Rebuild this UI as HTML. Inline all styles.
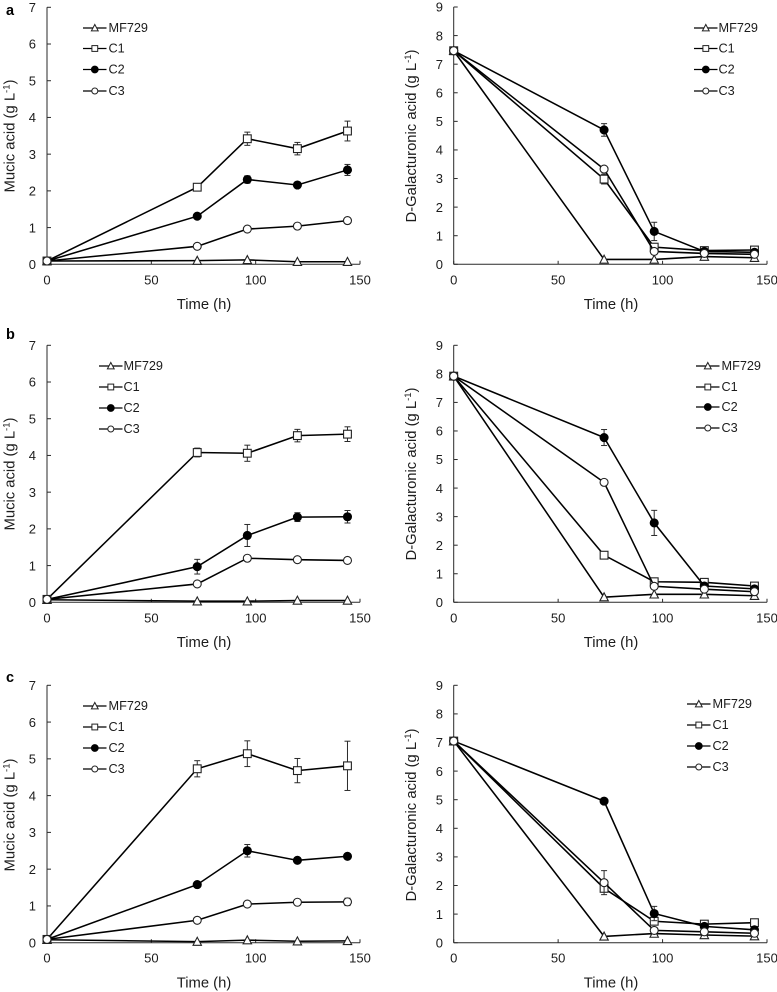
<!DOCTYPE html>
<html lang="en">
<head>
<meta charset="utf-8">
<title>Mucic acid and D-Galacturonic acid over time</title>
<style>
  html, body { margin: 0; padding: 0; background: #fff; }
  #figure { display: block; width: 777px; height: 992px; font-family: "Liberation Sans", Arial, sans-serif; filter: blur(0.3px); }
  text { fill: #1c1c1c; }
  .tick-label { font-size: 13px; }
  .legend-label { font-size: 12.7px; dominant-baseline: central; }
  .axis-title { font-size: 14.8px; text-anchor: middle; }
  .panel-letter { font-size: 14.5px; font-weight: bold; fill: #000; }
  .sup { font-size: 9.5px; }
</style>
</head>
<body>
<svg id="figure" xmlns="http://www.w3.org/2000/svg" width="777" height="992" viewBox="0 0 777 992">
  <rect x="0" y="0" width="777" height="992" fill="#ffffff"/>

  <text class="panel-letter" x="6" y="15">a</text>
  <text class="panel-letter" x="6" y="339">b</text>
  <text class="panel-letter" x="6" y="682">c</text>

  <g id="panel-a-mucic">
    <text class="axis-title" x="204" y="309">Time (h)</text>
    <text class="axis-title" transform="translate(14.5,136) rotate(-90)">Mucic acid (g L<tspan class="sup" dy="-5">-1</tspan><tspan dy="5">)</tspan></text>
    <text class="legend-label" x="108.5" y="28">MF729</text>
    <text class="legend-label" x="108.5" y="48.5">C1</text>
    <text class="legend-label" x="108.5" y="69.5">C2</text>
    <text class="legend-label" x="108.5" y="91">C3</text>
  </g>
  <g id="panel-a-galacturonic">
    <text class="axis-title" x="611" y="309">Time (h)</text>
    <text class="axis-title" transform="translate(416,136) rotate(-90)">D-Galacturonic acid (g L<tspan class="sup" dy="-5">-1</tspan><tspan dy="5">)</tspan></text>
    <text class="legend-label" x="718.5" y="28">MF729</text>
    <text class="legend-label" x="718.5" y="48.5">C1</text>
    <text class="legend-label" x="718.5" y="69.5">C2</text>
    <text class="legend-label" x="718.5" y="91">C3</text>
  </g>
  <g id="panel-b-mucic">
    <text class="axis-title" x="204" y="647">Time (h)</text>
    <text class="axis-title" transform="translate(14.5,474) rotate(-90)">Mucic acid (g L<tspan class="sup" dy="-5">-1</tspan><tspan dy="5">)</tspan></text>
    <text class="legend-label" x="123.5" y="366">MF729</text>
    <text class="legend-label" x="123.5" y="387">C1</text>
    <text class="legend-label" x="123.5" y="408">C2</text>
    <text class="legend-label" x="123.5" y="429">C3</text>
  </g>
  <g id="panel-b-galacturonic">
    <text class="axis-title" x="611" y="647">Time (h)</text>
    <text class="axis-title" transform="translate(416,474) rotate(-90)">D-Galacturonic acid (g L<tspan class="sup" dy="-5">-1</tspan><tspan dy="5">)</tspan></text>
    <text class="legend-label" x="721.5" y="366">MF729</text>
    <text class="legend-label" x="721.5" y="387">C1</text>
    <text class="legend-label" x="721.5" y="407">C2</text>
    <text class="legend-label" x="721.5" y="428">C3</text>
  </g>
  <g id="panel-c-mucic">
    <text class="axis-title" x="204" y="987.5">Time (h)</text>
    <text class="axis-title" transform="translate(14.5,815) rotate(-90)">Mucic acid (g L<tspan class="sup" dy="-5">-1</tspan><tspan dy="5">)</tspan></text>
    <text class="legend-label" x="108.5" y="706">MF729</text>
    <text class="legend-label" x="108.5" y="727">C1</text>
    <text class="legend-label" x="108.5" y="748">C2</text>
    <text class="legend-label" x="108.5" y="769">C3</text>
  </g>
  <g id="panel-c-galacturonic">
    <text class="axis-title" x="611" y="987.5">Time (h)</text>
    <text class="axis-title" transform="translate(416,815) rotate(-90)">D-Galacturonic acid (g L<tspan class="sup" dy="-5">-1</tspan><tspan dy="5">)</tspan></text>
    <text class="legend-label" x="712.5" y="704">MF729</text>
    <text class="legend-label" x="712.5" y="725">C1</text>
    <text class="legend-label" x="712.5" y="746">C2</text>
    <text class="legend-label" x="712.5" y="767">C3</text>
  </g>
</svg>

<script>
// ---- shared categories and tick labels ----
const times = [0, 72, 96, 120, 144];
const timeTicks = [0, 50, 100, 150];
const mucicTicks = [0, 1, 2, 3, 4, 5, 6, 7];
const galacturonicTicks = [0, 1, 2, 3, 4, 5, 6, 7, 8, 9];
const seriesKeys = ['mf729', 'c1', 'c2', 'c3'];

// ---- panel a, mucic acid ----
const aMucicMF729 = [0.09, 0.10, 0.12, 0.07, 0.07];
const aMucicC1 = [0.09, 2.10, 3.42, 3.15, 3.63];
const aMucicC2 = [0.09, 1.31, 2.31, 2.16, 2.57];
const aMucicC3 = [0.09, 0.49, 0.96, 1.04, 1.19];
const aMucicMF729Err = [0, 0, 0, 0, 0];
const aMucicC1Err = [0, 0, 0.18, 0.17, 0.27];
const aMucicC2Err = [0, 0.04, 0.10, 0.05, 0.15];
const aMucicC3Err = [0, 0, 0, 0.05, 0];

// ---- panel a, D-galacturonic acid ----
const aGalMF729 = [7.47, 0.17, 0.17, 0.27, 0.23];
const aGalC1 = [7.47, 2.98, 0.60, 0.48, 0.50];
const aGalC2 = [7.47, 4.70, 1.15, 0.45, 0.42];
const aGalC3 = [7.47, 3.33, 0.45, 0.38, 0.35];
const aGalMF729Err = [0, 0, 0, 0, 0];
const aGalC1Err = [0, 0.17, 0.10, 0, 0];
const aGalC2Err = [0, 0.22, 0.32, 0.05, 0.05];
const aGalC3Err = [0, 0, 0, 0, 0];

// ---- panel b, mucic acid ----
const bMucicMF729 = [0.07, 0.03, 0.03, 0.05, 0.05];
const bMucicC1 = [0.08, 4.08, 4.06, 4.54, 4.58];
const bMucicC2 = [0.08, 0.97, 1.82, 2.32, 2.33];
const bMucicC3 = [0.08, 0.50, 1.20, 1.16, 1.14];
const bMucicMF729Err = [0, 0, 0, 0, 0];
const bMucicC1Err = [0, 0.12, 0.22, 0.17, 0.20];
const bMucicC2Err = [0, 0.20, 0.30, 0.12, 0.17];
const bMucicC3Err = [0, 0, 0, 0, 0];

// ---- panel b, D-galacturonic acid ----
const bGalMF729 = [7.92, 0.18, 0.28, 0.28, 0.23];
const bGalC1 = [7.92, 1.65, 0.72, 0.70, 0.57];
const bGalC2 = [7.92, 5.77, 2.78, 0.57, 0.47];
const bGalC3 = [7.92, 4.20, 0.56, 0.46, 0.37];
const bGalMF729Err = [0, 0, 0, 0, 0];
const bGalC1Err = [0, 0, 0, 0, 0];
const bGalC2Err = [0, 0.28, 0.44, 0.10, 0.05];
const bGalC3Err = [0, 0, 0, 0, 0];

// ---- panel c, mucic acid ----
const cMucicMF729 = [0.08, 0.03, 0.07, 0.04, 0.05];
const cMucicC1 = [0.09, 4.73, 5.14, 4.68, 4.81];
const cMucicC2 = [0.09, 1.58, 2.50, 2.24, 2.35];
const cMucicC3 = [0.09, 0.61, 1.05, 1.10, 1.11];
const cMucicMF729Err = [0, 0, 0, 0, 0];
const cMucicC1Err = [0, 0.22, 0.35, 0.33, 0.67];
const cMucicC2Err = [0, 0.05, 0.17, 0.05, 0.05];
const cMucicC3Err = [0, 0, 0, 0.07, 0.10];

// ---- panel c, D-galacturonic acid ----
const cGalMF729 = [7.05, 0.22, 0.32, 0.27, 0.23];
const cGalC1 = [7.05, 1.90, 0.75, 0.65, 0.70];
const cGalC2 = [7.05, 4.95, 1.02, 0.57, 0.45];
const cGalC3 = [7.05, 2.10, 0.43, 0.38, 0.33];
const cGalMF729Err = [0, 0, 0, 0, 0];
const cGalC1Err = [0, 0.12, 0, 0, 0];
const cGalC2Err = [0, 0, 0.25, 0.05, 0.05];
const cGalC3Err = [0, 0.42, 0, 0, 0];

// ---- panel wiring (layout lives here, data lives above) ----
const panels = [
  { id: 'panel-a-mucic', x0: 47, x1: 360, y0: 264.3, y1: 7.3, yTicks: mucicTicks, labelRight: 36,
    legendX: 83, legendYs: [28, 48.5, 69.5, 91],
    values: [aMucicMF729, aMucicC1, aMucicC2, aMucicC3], errors: [aMucicMF729Err, aMucicC1Err, aMucicC2Err, aMucicC3Err] },
  { id: 'panel-a-galacturonic', x0: 453.7, x1: 767, y0: 264.3, y1: 7, yTicks: galacturonicTicks, labelRight: 443,
    legendX: 694, legendYs: [28, 48.5, 69.5, 91],
    values: [aGalMF729, aGalC1, aGalC2, aGalC3], errors: [aGalMF729Err, aGalC1Err, aGalC2Err, aGalC3Err] },
  { id: 'panel-b-mucic', x0: 47, x1: 360, y0: 602.3, y1: 345.3, yTicks: mucicTicks, labelRight: 36,
    legendX: 99, legendYs: [366, 387, 408, 429],
    values: [bMucicMF729, bMucicC1, bMucicC2, bMucicC3], errors: [bMucicMF729Err, bMucicC1Err, bMucicC2Err, bMucicC3Err] },
  { id: 'panel-b-galacturonic', x0: 453.7, x1: 767, y0: 602.3, y1: 345.3, yTicks: galacturonicTicks, labelRight: 443,
    legendX: 696, legendYs: [366, 387, 407, 428],
    values: [bGalMF729, bGalC1, bGalC2, bGalC3], errors: [bGalMF729Err, bGalC1Err, bGalC2Err, bGalC3Err] },
  { id: 'panel-c-mucic', x0: 47, x1: 360, y0: 942.7, y1: 685.3, yTicks: mucicTicks, labelRight: 36,
    legendX: 83, legendYs: [706, 727, 748, 769],
    values: [cMucicMF729, cMucicC1, cMucicC2, cMucicC3], errors: [cMucicMF729Err, cMucicC1Err, cMucicC2Err, cMucicC3Err] },
  { id: 'panel-c-galacturonic', x0: 453.7, x1: 767, y0: 942.7, y1: 685.3, yTicks: galacturonicTicks, labelRight: 443,
    legendX: 687, legendYs: [704, 725, 746, 767],
    values: [cGalMF729, cGalC1, cGalC2, cGalC3], errors: [cGalMF729Err, cGalC1Err, cGalC2Err, cGalC3Err] }
];

const SVG_NS = 'http://www.w3.org/2000/svg';
const INK = '#000000';
const AXIS_INK = '#2a2a2a';
const MARK_INK = '#222222';
const LINE_WIDTH = 1.55;

function make(tag, parent, name, attrs) {
  const el = document.createElementNS(SVG_NS, tag);
  
  
  Object.keys(attrs).forEach(function (k) { el.setAttribute(k, attrs[k]); });
  parent.appendChild(el);
  return el;
}

function drawMarker(parent, key, x, y, name) {
  const base = { stroke: MARK_INK, 'stroke-width': 1.1, fill: '#ffffff' };
  if (key === 'mf729') {
    make('polygon', parent, name, Object.assign({}, base, {
      points: (x - 4.2) + ',' + (y + 3.7) + ' ' + (x + 4.2) + ',' + (y + 3.7) + ' ' + x + ',' + (y - 4.3)
    }));
  } else if (key === 'c1') {
    make('rect', parent, name, Object.assign({}, base, { x: x - 3.9, y: y - 3.9, width: 7.8, height: 7.8 }));
  } else if (key === 'c2') {
    make('circle', parent, name, Object.assign({}, base, { cx: x, cy: y, r: 4, fill: INK, stroke: INK }));
  } else {
    make('circle', parent, name, Object.assign({}, base, { cx: x, cy: y, r: 4 }));
  }
}

function drawLegendMarker(parent, key, x, y, name) {
  const base = { stroke: MARK_INK, 'stroke-width': 1, fill: '#ffffff' };
  if (key === 'mf729') {
    make('polygon', parent, name, Object.assign({}, base, {
      points: (x - 3.4) + ',' + (y + 2.9) + ' ' + (x + 3.4) + ',' + (y + 2.9) + ' ' + x + ',' + (y - 3.5)
    }));
  } else if (key === 'c1') {
    make('rect', parent, name, Object.assign({}, base, { x: x - 2.9, y: y - 2.9, width: 5.8, height: 5.8 }));
  } else if (key === 'c2') {
    make('circle', parent, name, Object.assign({}, base, { cx: x, cy: y, r: 3.4, fill: INK, stroke: INK }));
  } else {
    make('circle', parent, name, Object.assign({}, base, { cx: x, cy: y, r: 3 }));
  }
}

function drawPanel(p) {
  const root = document.getElementById(p.id);
  const xMax = timeTicks[timeTicks.length - 1];
  const yMax = p.yTicks[p.yTicks.length - 1];
  const xScale = function (t) { return p.x0 + (t / xMax) * (p.x1 - p.x0); };
  const yScale = function (v) { return p.y0 - (v / yMax) * (p.y0 - p.y1); };

  // axes
  const axes = make('g', root, 'axes', {});
  make('line', axes, 'x-axis-line', { x1: p.x0, x2: p.x1, y1: p.y0, y2: p.y0, stroke: AXIS_INK, 'stroke-width': 1 });
  make('line', axes, 'y-axis-line', { x1: p.x0, x2: p.x0, y1: p.y0, y2: p.y1, stroke: AXIS_INK, 'stroke-width': 1 });

  timeTicks.forEach(function (t) {
    const x = xScale(t);
    make('line', axes, 'x-tick', { x1: x, x2: x, y1: p.y0, y2: p.y0 - 3.5, stroke: AXIS_INK, 'stroke-width': 1 });
    const label = make('text', axes, 'x-tick-label', { x: x, y: p.y0 + 20, 'text-anchor': 'middle', 'class': 'tick-label' });
    label.textContent = String(t);
  });
  p.yTicks.forEach(function (v) {
    const y = yScale(v);
    make('line', axes, 'y-tick', { x1: p.x0, x2: p.x0 + 4, y1: y, y2: y, stroke: AXIS_INK, 'stroke-width': 1 });
    const label = make('text', axes, 'y-tick-label', { x: p.labelRight, y: y + 4.7, 'text-anchor': 'end', 'class': 'tick-label' });
    label.textContent = String(v);
  });

  // series
  seriesKeys.forEach(function (key, s) {
    const g = make('g', root, 'series-' + key, {});
    const vals = p.values[s];
    const errs = p.errors[s];
    const pts = times.map(function (t, i) { return xScale(t) + ',' + yScale(vals[i]); }).join(' ');
    make('polyline', g, 'line-' + key, { points: pts, fill: 'none', stroke: INK, 'stroke-width': LINE_WIDTH });
    times.forEach(function (t, i) {
      const x = xScale(t);
      if (errs[i] > 0) {
        const hi = yScale(vals[i] + errs[i]);
        const lo = yScale(Math.max(0, vals[i] - errs[i]));
        make('line', g, 'error-bar-' + key, { x1: x, x2: x, y1: hi, y2: lo, stroke: AXIS_INK, 'stroke-width': 1 });
        make('line', g, 'error-cap-' + key, { x1: x - 3, x2: x + 3, y1: hi, y2: hi, stroke: AXIS_INK, 'stroke-width': 1 });
        make('line', g, 'error-cap-' + key, { x1: x - 3, x2: x + 3, y1: lo, y2: lo, stroke: AXIS_INK, 'stroke-width': 1 });
      }
      drawMarker(g, key, x, yScale(vals[i]), 'point-' + key);
    });
  });

  // legend swatches
  seriesKeys.forEach(function (key, s) {
    const y = p.legendYs[s];
    const g = make('g', root, 'legend-swatch-' + key, {});
    make('line', g, 'legend-line-' + key, { x1: p.legendX, x2: p.legendX + 23.5, y1: y, y2: y, stroke: INK, 'stroke-width': 1.25 });
    drawLegendMarker(g, key, p.legendX + 11.8, y, 'legend-marker-' + key);
  });
}

panels.forEach(drawPanel);
</script>
</body>
</html>
